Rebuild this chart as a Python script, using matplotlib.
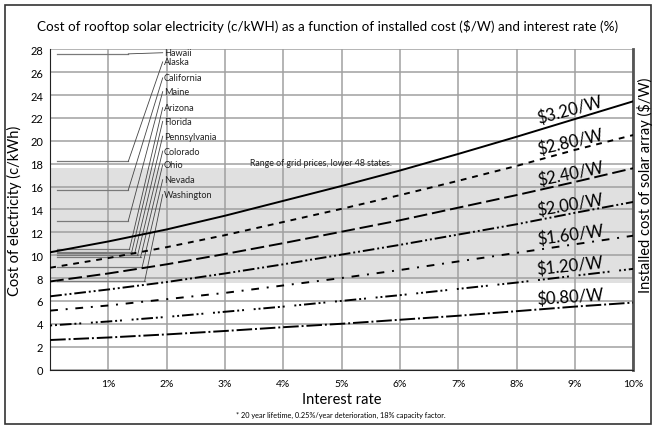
import matplotlib

matplotlib.use("Agg")
import matplotlib.pyplot as plt
from matplotlib.patches import Rectangle

plt.rcParams["font.family"] = ["Lato", "DejaVu Sans"]

# interest rate (%)
rates = [0, 1, 2, 3, 4, 5, 6, 7, 8, 9, 10]

# cost of electricity (c/kWh) per installed cost
cost_320 = [10.25, 11.2, 12.25, 13.45, 14.75, 16.05, 17.4, 18.85, 20.35, 21.9, 23.45]
cost_280 = [8.9, 9.75, 10.7, 11.75, 12.9, 14.05, 15.25, 16.5, 17.8, 19.2, 20.5]
cost_240 = [7.7, 8.4, 9.2, 10.1, 11.05, 12.05, 13.05, 14.15, 15.25, 16.4, 17.6]
cost_200 = [6.4, 7.0, 7.65, 8.4, 9.2, 10.05, 10.9, 11.8, 12.7, 13.7, 14.65]
cost_160 = [5.15, 5.6, 6.15, 6.7, 7.35, 8.0, 8.7, 9.45, 10.2, 10.95, 11.7]
cost_120 = [3.85, 4.2, 4.6, 5.05, 5.5, 6.0, 6.5, 7.05, 7.6, 8.2, 8.8]
cost_080 = [2.58, 2.8, 3.07, 3.37, 3.7, 4.0, 4.35, 4.7, 5.1, 5.5, 5.85]

series_labels = ["$3.20/W", "$2.80/W", "$2.40/W", "$2.00/W", "$1.60/W", "$1.20/W", "$0.80/W"]
series = [cost_320, cost_280, cost_240, cost_200, cost_160, cost_120, cost_080]

# grid price range, lower 48 states
grid_low, grid_high = 7.6, 17.6

# state grid prices (c/kWh)
states = ["Hawaii", "Alaska", "California", "Maine", "Arizona", "Florida",
          "Pennsylvania", "Colorado", "Ohio", "Nevada", "Washington"]
state_prices = [27.6, 18.2, 15.7, 13.0, 10.5, 10.3, 10.15, 10.0, 9.8, 9.0, 7.7]

y_ticks = list(range(0, 29, 2))
x_ticks = [1, 2, 3, 4, 5, 6, 7, 8, 9, 10]
x_tick_labels = [f"{t}%" for t in x_ticks]

styles = [
    "-",
    (0, (3, 3)),
    (0, (7, 2.5)),
    (0, (6, 1.5, 1, 1.5, 1, 1.5)),
    (0, (4, 4, 1, 4)),
    (0, (1, 1.5, 1, 1.5, 6, 1.5, 1, 1.5, 1, 5)),
    (0, (8, 1.5, 1, 1.5)),
]
label_offsets = [0.95, 0.9, 0.9, 0.85, 0.9, 0.95, 0.9]
label_rot = [15, 13, 11.5, 9.5, 7.5, 6, 4]

fig = plt.figure(figsize=(6.55, 4.27), dpi=100)
fig.patches.append(Rectangle((0.008, 0.005), 0.986, 0.982, transform=fig.transFigure,
                             fill=False, edgecolor="#333333", linewidth=1.2))
ax = fig.add_axes([0.0766, 0.1323, 0.89, 0.7499])

ax.axhspan(grid_low, grid_high, color="#e0e0e0", zorder=0, lw=0)
ax.text(3.43, grid_high + 0.15, "Range of grid prices, lower 48 states.",
        fontsize=6.3, color="#222222", va="bottom", ha="left")

for ys, ls, lab, off, rot in zip(series, styles, series_labels, label_offsets, label_rot):
    ax.plot(rates, ys, color="black", linestyle=ls, linewidth=1.4, zorder=3)
    ax.text(8.92, ys[8] + (ys[9] - ys[8]) * 0.92 + off, lab, fontsize=12,
            rotation=rot, ha="center", va="center", rotation_mode="anchor", zorder=4)

# state leader lines
knee_x = [1.34, 1.34, 1.34, 1.34, 1.36, 1.40, 1.45, 1.50, 1.55, 1.58, 1.62]
label_y = [27.7, 26.9, 25.5, 24.3, 22.9, 21.7, 20.4, 19.1, 17.9, 16.6, 15.3]
for name, p, kx, ly in zip(states, state_prices, knee_x, label_y):
    ax.plot([0.12, kx], [p, p], color="#7a7a7a", linewidth=0.9, zorder=2)
    ax.plot([kx, 1.93], [p, ly], color="#444444", linewidth=0.6, zorder=2)
    ax.text(1.95, ly, name, fontsize=6.6, va="center", ha="left", color="#222222", zorder=4)

ax.set_xlim(0, 10)
ax.set_ylim(0, 28)
ax.set_yticks(y_ticks)
ax.set_xticks(x_ticks)
ax.set_xticklabels(x_tick_labels)
ax.tick_params(axis="both", length=0, labelsize=8, pad=5)
ax.tick_params(axis="x", pad=7, labelsize=7.5)
ax.grid(True, color="#a0a0a0", linewidth=1.1, zorder=1)
ax.set_axisbelow(True)
ax.spines["top"].set_visible(False)
ax.spines["left"].set_color("#222222")
ax.spines["bottom"].set_color("#222222")
ax.spines["right"].set_color("#555555")
ax.spines["right"].set_linewidth(2)

ax.set_xlabel("Interest rate", fontsize=10.5, labelpad=3)
ax.set_ylabel("Cost of electricity (c/kWh)", fontsize=10.5, labelpad=6)
fig.text(0.985, 0.565, "Installed cost of solar array ($/W)", rotation=90,
         fontsize=10.5, ha="center", va="center")

fig.text(0.5, 0.938, "Cost of rooftop solar electricity (c/kWH) as a function of installed cost ($/W) and interest rate (%)",
         fontsize=9.7, ha="center", va="center")
fig.text(0.52, 0.028, "* 20 year lifetime, 0.25%/year deterioration, 18% capacity factor.",
         fontsize=5.3, ha="center", va="center")

fig.savefig("out.png", dpi=100)
